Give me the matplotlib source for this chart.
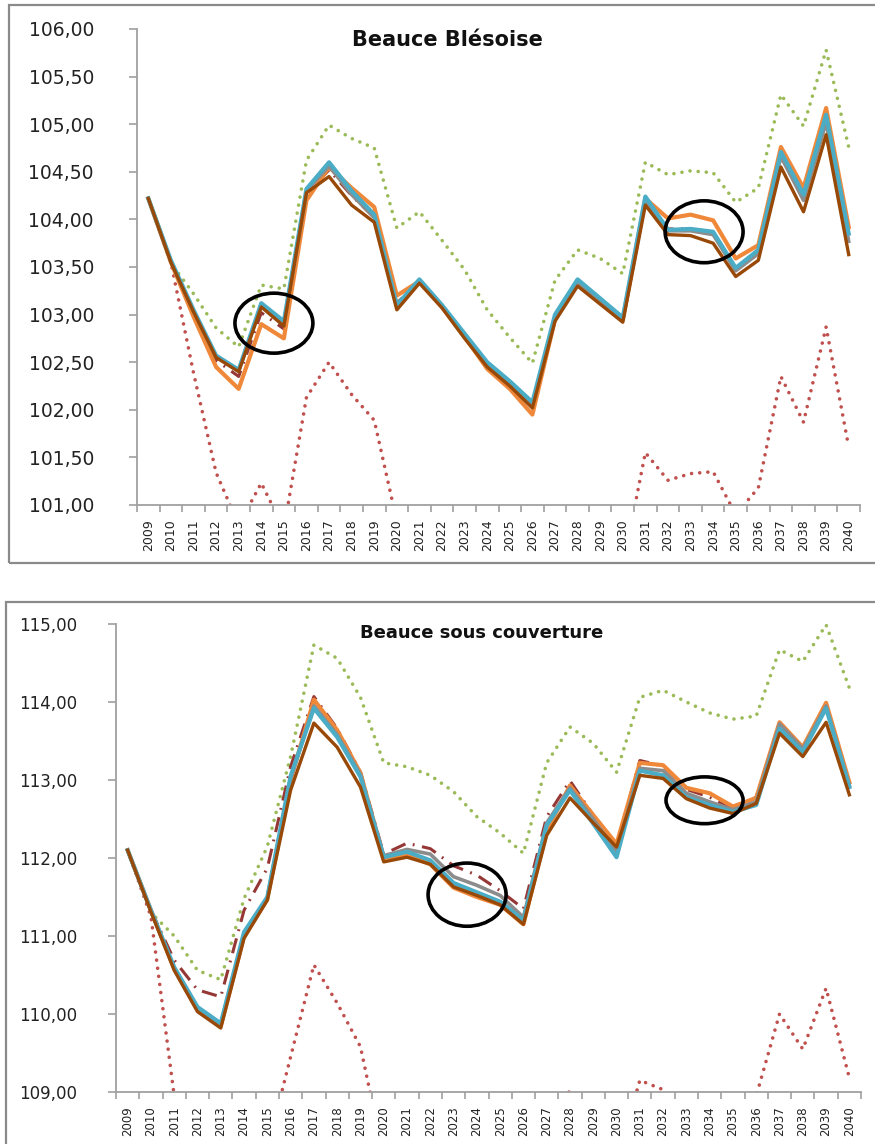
import numpy as np
from matplotlib import pyplot as plt
from matplotlib.patches import Ellipse, Rectangle

years = list(range(2009, 2041))

# ---- Beauce Blesoise ----
top_orange = [104.22, 103.55, 102.98, 102.45, 102.22, 102.90, 102.75, 104.20, 104.55, 104.33, 104.13,
              103.20, 103.35, 103.08, 102.77, 102.43, 102.22, 101.95, 102.95, 103.33, 103.13, 102.94,
              104.22, 104.01, 104.05, 103.99, 103.59, 103.73, 104.76, 104.33, 105.17, 103.92]
top_blue = [104.22, 103.57, 103.05, 102.57, 102.42, 103.12, 102.93, 104.32, 104.60, 104.30, 104.05,
            103.10, 103.37, 103.10, 102.80, 102.50, 102.30, 102.08, 103.00, 103.37, 103.17, 102.97,
            104.24, 103.89, 103.90, 103.87, 103.49, 103.68, 104.71, 104.26, 105.10, 103.85]
top_brown = [104.22, 103.55, 103.03, 102.55, 102.40, 103.08, 102.88, 104.28, 104.45, 104.15, 103.97,
             103.05, 103.33, 103.07, 102.75, 102.45, 102.25, 102.02, 102.93, 103.30, 103.11, 102.92,
             104.15, 103.84, 103.83, 103.75, 103.40, 103.57, 104.55, 104.08, 104.89, 103.63]
top_gray = [104.22, 103.56, 103.04, 102.56, 102.41, 103.10, 102.91, 104.30, 104.56, 104.26, 104.02,
            103.08, 103.35, 103.09, 102.78, 102.48, 102.28, 102.05, 102.97, 103.34, 103.14, 102.95,
            104.20, 103.88, 103.88, 103.84, 103.46, 103.64, 104.66, 104.20, 105.02, 103.77]
top_dashdot = [104.22, 103.56, 103.03, 102.52, 102.35, 103.02, 102.85, 104.27, 104.52, 104.25, 104.02,
               103.12, 103.35, 103.08, 102.77, 102.46, 102.26, 102.02, 102.96, 103.33, 103.13, 102.94,
               104.20, 103.90, 103.90, 103.86, 103.47, 103.64, 104.68, 104.22, 105.03, 103.78]
top_green = [104.22, 103.54, 103.22, 102.86, 102.66, 103.31, 103.27, 104.62, 104.99, 104.85, 104.75,
             103.91, 104.08, 103.78, 103.47, 103.05, 102.76, 102.49, 103.36, 103.68, 103.59, 103.43,
             104.60, 104.47, 104.51, 104.49, 104.18, 104.33, 105.31, 104.98, 105.78, 104.76]
top_red = [104.22, 103.55, 102.39, 101.34, 100.79, 101.23, 100.75, 102.13, 102.50, 102.16, 101.89,
           100.83, 100.30, 100.10, 100.00, 99.90, 99.90, 99.80, 100.00, 100.20, 100.20, 100.35,
           101.55, 101.26, 101.33, 101.35, 100.90, 101.18, 102.35, 101.87, 102.87, 101.61]

# ---- Beauce sous couverture ----
bot_orange = [112.10, 111.33, 110.58, 110.06, 109.85, 111.00, 111.47, 113.00, 114.03, 113.64, 113.09,
              112.00, 112.04, 111.92, 111.62, 111.50, 111.40, 111.15, 112.35, 112.93, 112.55, 112.18,
              113.22, 113.19, 112.90, 112.83, 112.66, 112.77, 113.74, 113.42, 113.99, 112.97]
bot_blue = [112.10, 111.33, 110.60, 110.09, 109.88, 111.05, 111.50, 113.05, 113.92, 113.55, 113.04,
            112.01, 112.08, 111.97, 111.68, 111.56, 111.44, 111.20, 112.42, 112.87, 112.44, 112.01,
            113.12, 113.06, 112.78, 112.68, 112.59, 112.68, 113.66, 113.36, 113.92, 112.91]
bot_brown = [112.10, 111.31, 110.56, 110.03, 109.82, 110.97, 111.46, 112.87, 113.73, 113.42, 112.91,
             111.95, 112.01, 111.92, 111.63, 111.52, 111.40, 111.15, 112.29, 112.77, 112.45, 112.14,
             113.06, 113.02, 112.76, 112.64, 112.57, 112.70, 113.60, 113.30, 113.74, 112.81]
bot_gray = [112.10, 111.32, 110.59, 110.08, 109.87, 111.03, 111.49, 113.02, 113.95, 113.58, 113.07,
            112.03, 112.11, 112.05, 111.76, 111.65, 111.52, 111.24, 112.45, 112.90, 112.50, 112.08,
            113.15, 113.12, 112.83, 112.72, 112.62, 112.72, 113.72, 113.40, 113.95, 112.93]
bot_dashdot = [112.10, 111.33, 110.69, 110.31, 110.22, 111.33, 111.87, 113.17, 114.07, 113.66, 113.10,
               112.05, 112.19, 112.12, 111.90, 111.78, 111.58, 111.35, 112.53, 112.99, 112.55, 112.15,
               113.25, 113.18, 112.88, 112.78, 112.62, 112.78, 113.72, 113.40, 113.97, 112.95]
bot_green = [112.10, 111.30, 111.00, 110.56, 110.44, 111.48, 112.15, 113.30, 114.73, 114.56, 114.06,
             113.22, 113.17, 113.06, 112.85, 112.53, 112.32, 112.06, 113.22, 113.68, 113.47, 113.10,
             114.06, 114.15, 114.00, 113.86, 113.78, 113.82, 114.67, 114.52, 114.99, 114.18]
bot_red = [112.10, 111.25, 108.95, 107.50, 107.00, 107.30, 108.27, 109.45, 110.63, 110.14, 109.58,
           108.17, 107.50, 107.50, 107.50, 107.50, 107.50, 107.80, 108.30, 109.03, 108.50, 108.10,
           109.15, 109.03, 108.50, 108.30, 108.30, 108.95, 110.00, 109.55, 110.33, 109.18]

# circled areas: (year, value, width in years, height in value units)
top_circles = [(2014.56, 102.91, 3.45, 0.63), (2033.6, 103.87, 3.45, 0.65)]
bot_circles = [(2023.58, 111.53, 3.35, 0.81), (2033.78, 112.74, 3.31, 0.60)]

W, H = 875, 1144
fig = plt.figure(figsize=(W / 100, H / 100), dpi=100)


def rect(x0, y0, x1, y1):
    return [x0 / W, 1 - y1 / H, (x1 - x0) / W, (y1 - y0) / H]


# panel frames
fig.add_artist(Rectangle((9 / W, 1 - 563 / H), 2, (563 - 5) / H, transform=fig.transFigure,
                         fill=False, ec='#8a8a8a', lw=1.6))
fig.add_artist(Rectangle((6 / W, -0.2), 2, 0.2 + 1 - 602 / H, transform=fig.transFigure,
                         fill=False, ec='#8a8a8a', lw=1.6))

axc = '#a0a0a0'


def draw(ax, green, red, dashdot, orange, gray, blue, brown, circles, ylim, ystep, yfs, xfs, ypad):
    x = np.arange(len(years))
    ax.plot(x, green, color='#9BBB59', lw=2.6, ls=(0, (0.01, 2.25)), dash_capstyle='round')
    ax.plot(x, red, color='#C0504D', lw=2.6, ls=(0, (0.01, 2.25)), dash_capstyle='round')
    ax.plot(x, dashdot, color='#953735', lw=2.2, ls=(0, (5, 2.5, 0.6, 2.5)))
    ax.plot(x, orange, color='#F0883A', lw=3.0)
    ax.plot(x, gray, color='#8C8C8C', lw=2.6)
    ax.plot(x, blue, color='#4BACC6', lw=3.0)
    ax.plot(x, brown, color='#984807', lw=2.4)
    for cx, cy, w, h in circles:
        ax.add_patch(Ellipse((cx - years[0], cy), w, h, fill=False, ec='black', lw=2.6, zorder=5))

    ax.set_xlim(-0.5, len(years) - 0.5)
    ax.set_ylim(*ylim)
    for s in ['top', 'right']:
        ax.spines[s].set_visible(False)
    for s in ['left', 'bottom']:
        ax.spines[s].set_color(axc)
        ax.spines[s].set_linewidth(1.3)

    ax.set_xticks(x)
    ax.set_xticklabels([str(y) for y in years], rotation=90, fontsize=xfs, color='#222222')
    ax.set_xticks(np.arange(-0.5, len(years)), minor=True)
    ax.tick_params(axis='x', which='major', length=0, pad=10)
    ax.tick_params(axis='x', which='minor', length=5, color=axc, width=1.2)

    yt = np.arange(ylim[0], ylim[1] + 1e-6, ystep)
    ax.set_yticks(yt)
    ax.set_yticklabels([f'{v:.2f}'.replace('.', ',') for v in yt], fontsize=yfs, color='#222222')
    ax.tick_params(axis='y', length=6, color=axc, width=1.2, pad=ypad)


ax1 = fig.add_axes(rect(137, 29, 860, 505))
draw(ax1, top_green, top_red, top_dashdot, top_orange, top_gray, top_blue, top_brown,
     top_circles, (101, 106), 0.5, 13.5, 9, 25)

ax2 = fig.add_axes(rect(116, 624, 861, 1092))
draw(ax2, bot_green, bot_red, bot_dashdot, bot_orange, bot_gray, bot_blue, bot_brown,
     bot_circles, (109, 115), 1, 12, 8.5, 22)

fig.text(447 / W, 1 - 40 / H, 'Beauce Blésoise', fontsize=15, fontweight='bold',
         ha='center', va='center', color='#111111')
fig.text(482 / W, 1 - 633 / H, 'Beauce sous couverture', fontsize=13, fontweight='bold',
         ha='center', va='center', color='#111111')

fig.savefig('out.png', dpi=100)
